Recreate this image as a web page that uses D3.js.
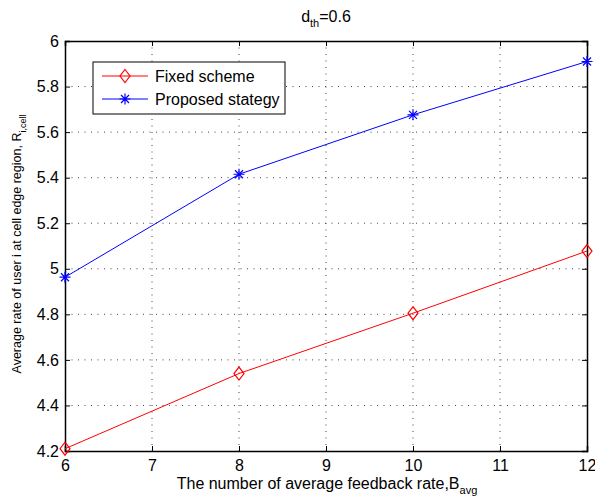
<!DOCTYPE html>
<html>
<head>
<meta charset="utf-8">
<script src="https://cdn.jsdelivr.net/npm/d3@7"></script>
<style>
  body { margin: 0; background: #fff; }
  text { font-family: "Liberation Sans", Arial, sans-serif; fill: #000; }
</style>
</head>
<body>
<svg id="chart" width="595" height="503"></svg>
<script>
// data
const feedbackRates = [6, 8, 10, 12];
const fixedScheme = [4.21, 4.54, 4.805, 5.078];
const proposedStrategy = [4.963, 5.415, 5.676, 5.91];
const xTicks = [6, 7, 8, 9, 10, 11, 12];
const yTicks = [4.2, 4.4, 4.6, 4.8, 5, 5.2, 5.4, 5.6, 5.8, 6];

const margin = { top: 41, right: 8, bottom: 52, left: 65 };
const width = 595 - margin.left - margin.right;
const height = 503 - margin.top - margin.bottom;

const svg = d3.select("#chart");
const g = svg.append("g")
  .attr("transform", "translate(" + margin.left + "," + margin.top + ")");

const x = d3.scaleLinear().domain([6, 12]).range([0, width]);
const y = d3.scaleLinear().domain([4.2, 6]).range([height, 0]);

// dotted grid
g.selectAll(".vgrid")
  .data(xTicks.slice(1, -1))
  .enter().append("line")
  .attr("x1", d => x(d)).attr("x2", d => x(d))
  .attr("y1", 0).attr("y2", height)
  .attr("stroke", "#444").attr("stroke-width", 1)
  .attr("stroke-dasharray", "1,5.5");
g.selectAll(".hgrid")
  .data(yTicks.slice(1, -1))
  .enter().append("line")
  .attr("x1", 0).attr("x2", width)
  .attr("y1", d => y(d)).attr("y2", d => y(d))
  .attr("stroke", "#444").attr("stroke-width", 1)
  .attr("stroke-dasharray", "1,5.5");

// axes, ticks pointing inward on all sides
const fmt = d => d3.format("")(+d.toFixed(1));
const axBottom = g.append("g")
  .attr("transform", "translate(0," + height + ")")
  .call(d3.axisBottom(x).tickValues(xTicks).tickSize(-5).tickPadding(9).tickFormat(fmt));
const axLeft = g.append("g")
  .call(d3.axisLeft(y).tickValues(yTicks).tickSize(-5).tickPadding(6).tickFormat(fmt));
const axTop = g.append("g")
  .call(d3.axisTop(x).tickValues(xTicks).tickSize(-5).tickFormat(""));
const axRight = g.append("g")
  .attr("transform", "translate(" + width + ",0)")
  .call(d3.axisRight(y).tickValues(yTicks).tickSize(-5).tickFormat(""));

[axBottom, axLeft, axTop, axRight].forEach(a => {
  a.select(".domain").attr("stroke", "#000").attr("stroke-width", 1.5);
  a.selectAll(".tick line").attr("stroke", "#000");
  a.selectAll("text").style("font-size", "16px").attr("fill", "#000");
});

// lines
const line = d3.line()
  .x((d, i) => x(feedbackRates[i]))
  .y(d => y(d));

g.append("path").datum(fixedScheme)
  .attr("d", line).attr("fill", "none")
  .attr("stroke", "#ff0000").attr("stroke-width", 1);
g.append("path").datum(proposedStrategy)
  .attr("d", line).attr("fill", "none")
  .attr("stroke", "#0000ff").attr("stroke-width", 1);

const diamond = "M0,-6.5L5,0L0,6.5L-5,0Z";
const star = "M0,-5.5V5.5M-5.5,0H5.5M-4,-4L4,4M-4,4L4,-4";

g.selectAll(".dia")
  .data(fixedScheme)
  .enter().append("path")
  .attr("transform", (d, i) => "translate(" + x(feedbackRates[i]) + "," + y(d) + ")")
  .attr("d", diamond).attr("fill", "none")
  .attr("stroke", "#ff0000").attr("stroke-width", 1.2);
g.selectAll(".star")
  .data(proposedStrategy)
  .enter().append("path")
  .attr("transform", (d, i) => "translate(" + x(feedbackRates[i]) + "," + y(d) + ")")
  .attr("d", star).attr("fill", "none")
  .attr("stroke", "#0000ff").attr("stroke-width", 1.2);

// legend
const leg = svg.append("g").attr("transform", "translate(93,62)");
leg.append("rect").attr("width", 192).attr("height", 52)
  .attr("fill", "#fff").attr("stroke", "#000").attr("stroke-width", 1);
const legendItems = [
  { name: "Fixed scheme", color: "#ff0000", shape: diamond, yy: 14 },
  { name: "Proposed stategy", color: "#0000ff", shape: star, yy: 37 }
];
legendItems.forEach(it => {
  leg.append("line").attr("x1", 9).attr("x2", 55)
    .attr("y1", it.yy).attr("y2", it.yy)
    .attr("stroke", it.color).attr("stroke-width", 1);
  leg.append("path").attr("transform", "translate(32," + it.yy + ")")
    .attr("d", it.shape).attr("fill", "none").attr("stroke", it.color).attr("stroke-width", 1.2);
  leg.append("text").attr("x", 62).attr("y", it.yy + 6)
    .style("font-size", "16px").text(it.name);
});

// title
const title = svg.append("text")
  .attr("x", 326).attr("y", 22).attr("text-anchor", "middle")
  .style("font-size", "16px");
title.append("tspan").text("d");
title.append("tspan").attr("dy", 5).style("font-size", "11px").text("th");
title.append("tspan").attr("dy", -5).text("=0.6");

// x label
const xl = svg.append("text")
  .attr("x", 327).attr("y", 489).attr("text-anchor", "middle")
  .style("font-size", "16px");
xl.append("tspan").text("The number of average feedback rate,B");
xl.append("tspan").attr("dy", 5).style("font-size", "11px").text("avg");

// y label
const yl = svg.append("text")
  .attr("transform", "translate(21,244) rotate(-90)")
  .attr("text-anchor", "middle")
  .style("font-size", "12.5px");
yl.append("tspan").text("Average rate of user i at cell edge region, R");
yl.append("tspan").attr("dy", 4.5).style("font-size", "9px").text("i,cell");
</script>
</body>
</html>
